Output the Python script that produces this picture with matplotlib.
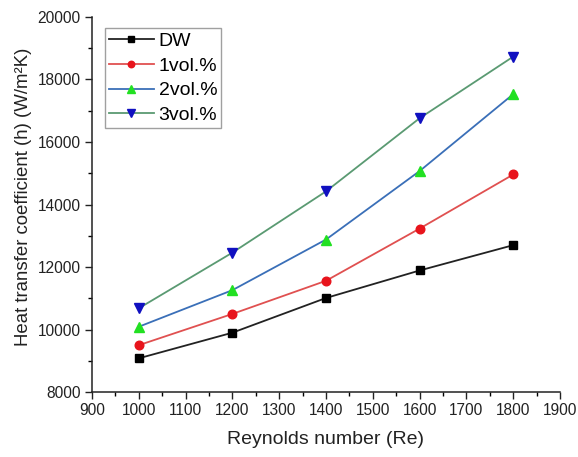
import matplotlib
matplotlib.use("Agg")
import matplotlib.pyplot as plt
from matplotlib.ticker import MultipleLocator

plt.rcParams['font.family'] = ['Liberation Sans', 'DejaVu Sans']

reynolds = [1000, 1200, 1400, 1600, 1800]
h_dw = [9080, 9900, 11010, 11890, 12700]
h_1vol = [9500, 10500, 11560, 13230, 14960]
h_2vol = [10090, 11260, 12880, 15070, 17530]
h_3vol = [10680, 12460, 14420, 16760, 18730]
series_labels = ["DW", "1vol.%", "2vol.%", "3vol.%"]

fig = plt.figure(figsize=(5.78, 4.57), dpi=100)
ax = fig.add_axes([0.159, 0.142, 0.81, 0.821])

styles = [
    dict(color="#222222", marker="s", mfc="black", mec="black", ms=5.5),
    dict(color="#e05050", marker="o", mfc="#e8141c", mec="#e8141c", ms=6.2),
    dict(color="#3a6fb8", marker="^", mfc="#22e022", mec="#22e022", ms=7),
    dict(color="#5a9a72", marker="v", mfc="#1010c0", mec="#1010c0", ms=7),
]
for vals, lab, st in zip([h_dw, h_1vol, h_2vol, h_3vol], series_labels, styles):
    ax.plot(reynolds, vals, lw=1.3, label=lab, **st)

ax.set_xlim(900, 1900)
ax.set_ylim(8000, 20000)
ax.xaxis.set_major_locator(MultipleLocator(100))
ax.xaxis.set_minor_locator(MultipleLocator(50))
ax.yaxis.set_major_locator(MultipleLocator(2000))
ax.yaxis.set_minor_locator(MultipleLocator(1000))
ax.tick_params(which="major", direction="out", length=5, width=1, labelsize=11.2,
               colors="#222222", pad=3)
ax.tick_params(which="minor", direction="out", length=3, width=1)
for side in ("top", "right"):
    ax.spines[side].set_visible(False)
for side in ("left", "bottom"):
    ax.spines[side].set_linewidth(1.1)
    ax.spines[side].set_color("#222222")

ax.set_xlabel("Reynolds number (Re)", fontsize=14, color="#222222", labelpad=9)
ax.set_ylabel("Heat transfer coefficient (h) (W/m²K)", fontsize=13.4, color="#222222")
ax.yaxis.set_label_coords(-0.127, 0.52)

leg = ax.legend(loc="upper left", bbox_to_anchor=(0.02, 0.98), fontsize=14, frameon=True,
                fancybox=False, edgecolor="#888888", handlelength=2.3, handletextpad=0.25,
                borderpad=0.2, labelspacing=0.37, borderaxespad=0.2, markerscale=0.75)
leg.get_frame().set_linewidth(1.0)

fig.savefig("out.png", dpi=100)
